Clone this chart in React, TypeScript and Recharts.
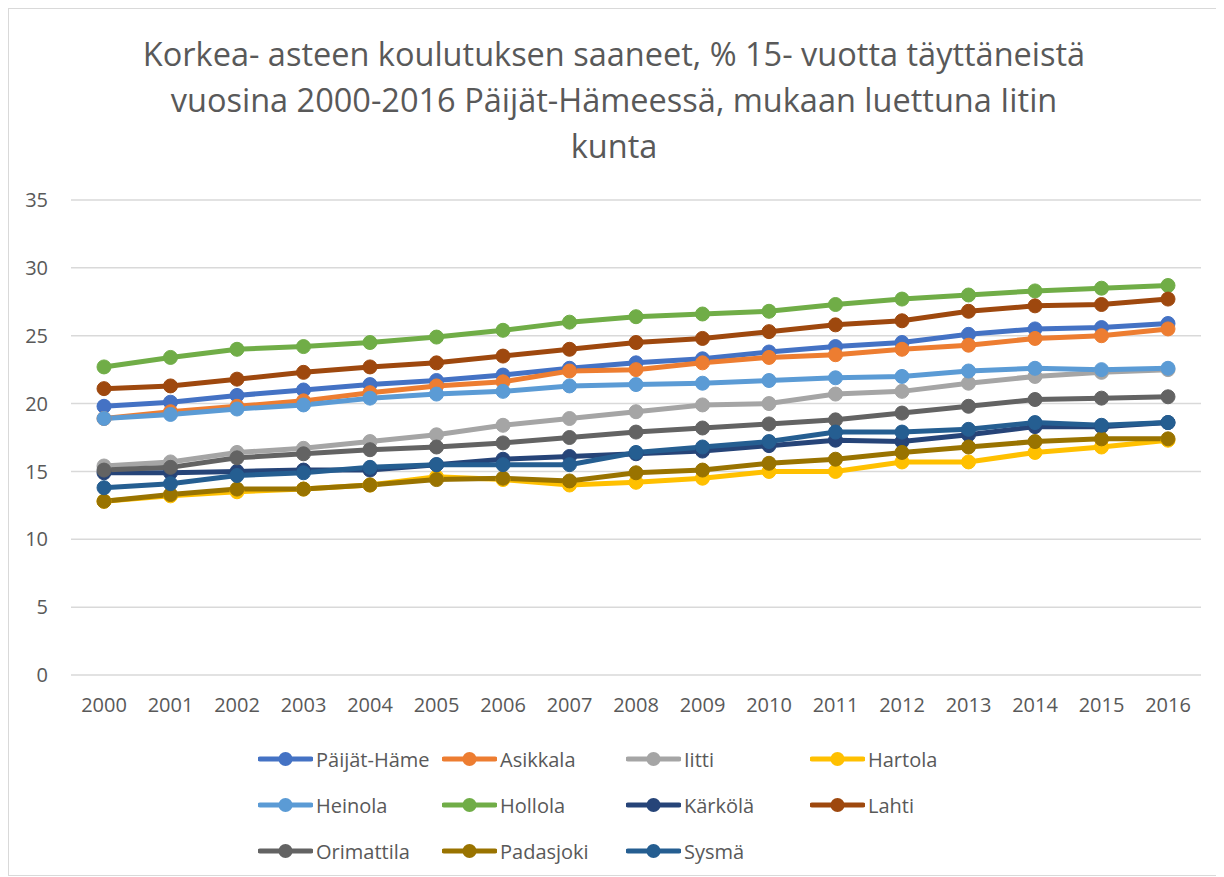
import { CartesianGrid, Line, LineChart, XAxis, YAxis } from "recharts";

const years = [
  "2000", "2001", "2002", "2003", "2004", "2005", "2006", "2007", "2008",
  "2009", "2010", "2011", "2012", "2013", "2014", "2015", "2016",
];

const paijatHame = [19.8, 20.1, 20.6, 21.0, 21.4, 21.7, 22.1, 22.6, 23.0, 23.3, 23.8, 24.2, 24.5, 25.1, 25.5, 25.6, 25.9];
const asikkala = [18.9, 19.4, 19.8, 20.2, 20.8, 21.3, 21.6, 22.4, 22.5, 23.0, 23.4, 23.6, 24.0, 24.3, 24.8, 25.0, 25.5];
const iitti = [15.4, 15.7, 16.4, 16.7, 17.2, 17.7, 18.4, 18.9, 19.4, 19.9, 20.0, 20.7, 20.9, 21.5, 22.0, 22.3, 22.5];
const hartola = [12.8, 13.2, 13.5, 13.7, 14.0, 14.6, 14.4, 14.0, 14.2, 14.5, 15.0, 15.0, 15.7, 15.7, 16.4, 16.8, 17.3];
const heinola = [18.9, 19.2, 19.6, 19.9, 20.4, 20.7, 20.9, 21.3, 21.4, 21.5, 21.7, 21.9, 22.0, 22.4, 22.6, 22.5, 22.6];
const hollola = [22.7, 23.4, 24.0, 24.2, 24.5, 24.9, 25.4, 26.0, 26.4, 26.6, 26.8, 27.3, 27.7, 28.0, 28.3, 28.5, 28.7];
const karkola = [14.9, 14.9, 15.0, 15.1, 15.1, 15.5, 15.9, 16.1, 16.3, 16.5, 16.9, 17.3, 17.2, 17.7, 18.3, 18.3, 18.6];
const lahti = [21.1, 21.3, 21.8, 22.3, 22.7, 23.0, 23.5, 24.0, 24.5, 24.8, 25.3, 25.8, 26.1, 26.8, 27.2, 27.3, 27.7];
const orimattila = [15.1, 15.3, 16.0, 16.3, 16.6, 16.8, 17.1, 17.5, 17.9, 18.2, 18.5, 18.8, 19.3, 19.8, 20.3, 20.4, 20.5];
const padasjoki = [12.8, 13.3, 13.7, 13.7, 14.0, 14.4, 14.5, 14.3, 14.9, 15.1, 15.6, 15.9, 16.4, 16.8, 17.2, 17.4, 17.4];
const sysma = [13.8, 14.1, 14.7, 14.9, 15.3, 15.5, 15.5, 15.5, 16.4, 16.8, 17.2, 17.9, 17.9, 18.1, 18.6, 18.4, 18.6];

const yTicks = [0, 5, 10, 15, 20, 25, 30, 35];

const series = [
  { name: "Päijät-Häme", values: paijatHame, color: "#4472C4" },
  { name: "Asikkala", values: asikkala, color: "#ED7D31" },
  { name: "Iitti", values: iitti, color: "#A5A5A5" },
  { name: "Hartola", values: hartola, color: "#FFC000" },
  { name: "Heinola", values: heinola, color: "#5B9BD5" },
  { name: "Hollola", values: hollola, color: "#70AD47" },
  { name: "Kärkölä", values: karkola, color: "#264478" },
  { name: "Lahti", values: lahti, color: "#9E480E" },
  { name: "Orimattila", values: orimattila, color: "#636363" },
  { name: "Padasjoki", values: padasjoki, color: "#997300" },
  { name: "Sysmä", values: sysma, color: "#255E91" },
];

const data = years.map((year, i) => {
  const row: Record<string, string | number> = { year };
  series.forEach((s) => {
    row[s.name] = s.values[i];
  });
  return row;
});

const FONT = "'Open Sans', sans-serif";
const TEXT = "#595959";

function LegendBox() {
  return (
    <div
      style={{
        position: "absolute",
        left: 249,
        top: 727,
        display: "grid",
        gridTemplateColumns: "184px 184px 184px 184px",
        gridAutoRows: "46px",
        fontFamily: FONT,
        fontSize: 20,
        color: TEXT,
      }}
    >
      {series.map((s) => (
        <div key={s.name} style={{ display: "flex", alignItems: "center" }}>
          <svg width={55} height={20} style={{ flex: "none" }}>
            <line x1={2} y1={10} x2={53} y2={10} stroke={s.color} strokeWidth={5} strokeLinecap="round" />
            <circle cx={27.5} cy={10} r={7} fill={s.color} />
          </svg>
          <span style={{ marginLeft: 3, whiteSpace: "nowrap" }}>{s.name}</span>
        </div>
      ))}
    </div>
  );
}

export default function App() {
  return (
    <div
      style={{
        position: "relative",
        width: 1210,
        height: 866,
        border: "1px solid #d9d9d9",
        background: "#fff",
      }}
    >
      <div
        style={{
          position: "absolute",
          left: 0,
          top: 22,
          width: 1210,
          textAlign: "center",
          fontFamily: FONT,
          fontSize: 32.5,
          lineHeight: "46px",
          color: TEXT,
        }}
      >
        Korkea- asteen koulutuksen saaneet, % 15- vuotta täyttäneistä
        <br />
        vuosina 2000-2016 Päijät-Hämeessä, mukaan luettuna Iitin
        <br />
        kunta
      </div>
      <LineChart
        width={1210}
        height={866}
        data={data}
        margin={{ top: 191, right: 18, left: 0, bottom: 140 }}
      >
        <CartesianGrid vertical={false} stroke="#d9d9d9" strokeWidth={1.5} />
        <XAxis
          dataKey="year"
          height={60}
          padding={{ left: 33, right: 33 }}
          axisLine={false}
          tickLine={false}
          tickSize={0}
          tickMargin={23}
          interval={0}
          tick={{ fill: TEXT, fontSize: 20, fontFamily: FONT }}
        />
        <YAxis
          width={62}
          domain={[0, 35]}
          ticks={yTicks}
          axisLine={false}
          tickLine={false}
          tickSize={0}
          tickMargin={23}
          tick={{ fill: TEXT, fontSize: 20, fontFamily: FONT }}
        />
        {series.map((s) => (
          <Line
            key={s.name}
            dataKey={s.name}
            stroke={s.color}
            strokeWidth={5}
            dot={{ r: 7, fill: s.color, stroke: s.color, strokeWidth: 1 }}
            activeDot={false}
            isAnimationActive={false}
          />
        ))}
      </LineChart>
      <LegendBox />
    </div>
  );
}
